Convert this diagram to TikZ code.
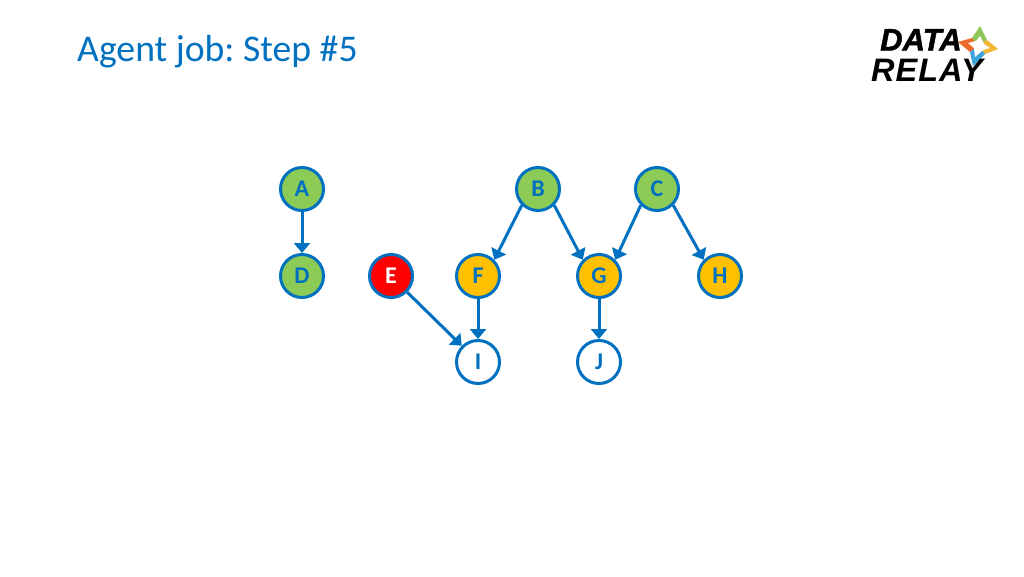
\documentclass[tikz,border=0pt]{standalone}
\usepackage{fontspec}
\setmainfont{Carlito}
\frenchspacing
\newfontface\logoa{Liberation Sans Bold Italic}[FakeBold=1.5]
\newfontface\logob{Liberation Sans Bold Italic}[LetterSpace=3]
\usetikzlibrary{arrows.meta}
\definecolor{bl}{HTML}{0070C0}
\definecolor{grn}{HTML}{8CCB55}
\definecolor{am}{HTML}{FFC000}
\definecolor{lgreen}{HTML}{8FC65A}
\definecolor{lorange}{HTML}{EE6A2C}
\definecolor{lyellow}{HTML}{F2B632}
\definecolor{lblue}{HTML}{3FA3DC}
\tikzset{
 nd/.style={circle,draw=bl,line width=3pt,minimum size=43pt,inner sep=0pt,text=bl,font=\fontsize{24}{24}\selectfont\bfseries},
 donen/.style={nd,fill=grn},
 runn/.style={nd,fill=am},
 failn/.style={nd,fill=red,text=white},
 waitn/.style={nd,fill=white},
 ar/.style={draw=bl,line width=3pt,-{Triangle[length=10pt,width=16pt]}},
 logot/.style={text=black,anchor=base west,inner sep=0pt}
}
\begin{document}
\begin{tikzpicture}[x=1pt,y=-1pt]
\useasboundingbox (0,0) rectangle (1024,576);
\node[anchor=base west,inner sep=0pt,text=bl,font=\fontsize{37.7}{37.7}\selectfont] (title) at (77,61) {Agent job: Step \#5};
\node[donen] (A) at (302,189) {A};
\node[donen] (D) at (302,276) {D};
\node[failn] (E) at (391,276) {E};
\node[runn] (F) at (478,276) {F};
\node[waitn] (I) at (478,362) {I};
\node[donen] (B) at (538,189) {B};
\node[donen] (C) at (657,189) {C};
\node[runn] (G) at (599,276) {G};
\node[runn] (H) at (720,276) {H};
\node[waitn] (J) at (599,362) {J};
\draw[ar] (A) -- (D);
\draw[ar] (E.south east) -- (I.north west);
\draw[ar] (F) -- (I);
\draw[ar] (B.south west) -- (F.north east);
\draw[ar] (B.south east) -- (G.north west);
\draw[ar] (C.south west) -- (G.north east);
\draw[ar] (C.south east) -- (H.north west);
\draw[ar] (G) -- (J);
% logo
\coordinate (lc) at (978,46);
\fill[lgreen] (972,38) -- (980,26) -- (987,40) -- (lc) -- cycle;
\fill[lorange] (958,42) -- (972,38) -- (lc) -- (970,52) -- cycle;
\fill[lyellow] (998,49) -- (987,40) -- (lc) -- (985,54) -- cycle;
\fill[lblue] (973,66) -- (985,54) -- (lc) -- (970,52) -- cycle;
\fill[white] (980,36) -- (984,44) -- (990,48) -- (983,50) -- (975,57) -- (974,48) -- (968,43) -- (976,41) -- cycle;
\node[logot,font=\logoa\fontsize{31}{31}\selectfont] (l1) at (880,50.5) {DATA};
\node[logot,font=\logob\fontsize{32.5}{33}\selectfont] (l2) at (871,81) {RELAY};
\end{tikzpicture}
\end{document}
